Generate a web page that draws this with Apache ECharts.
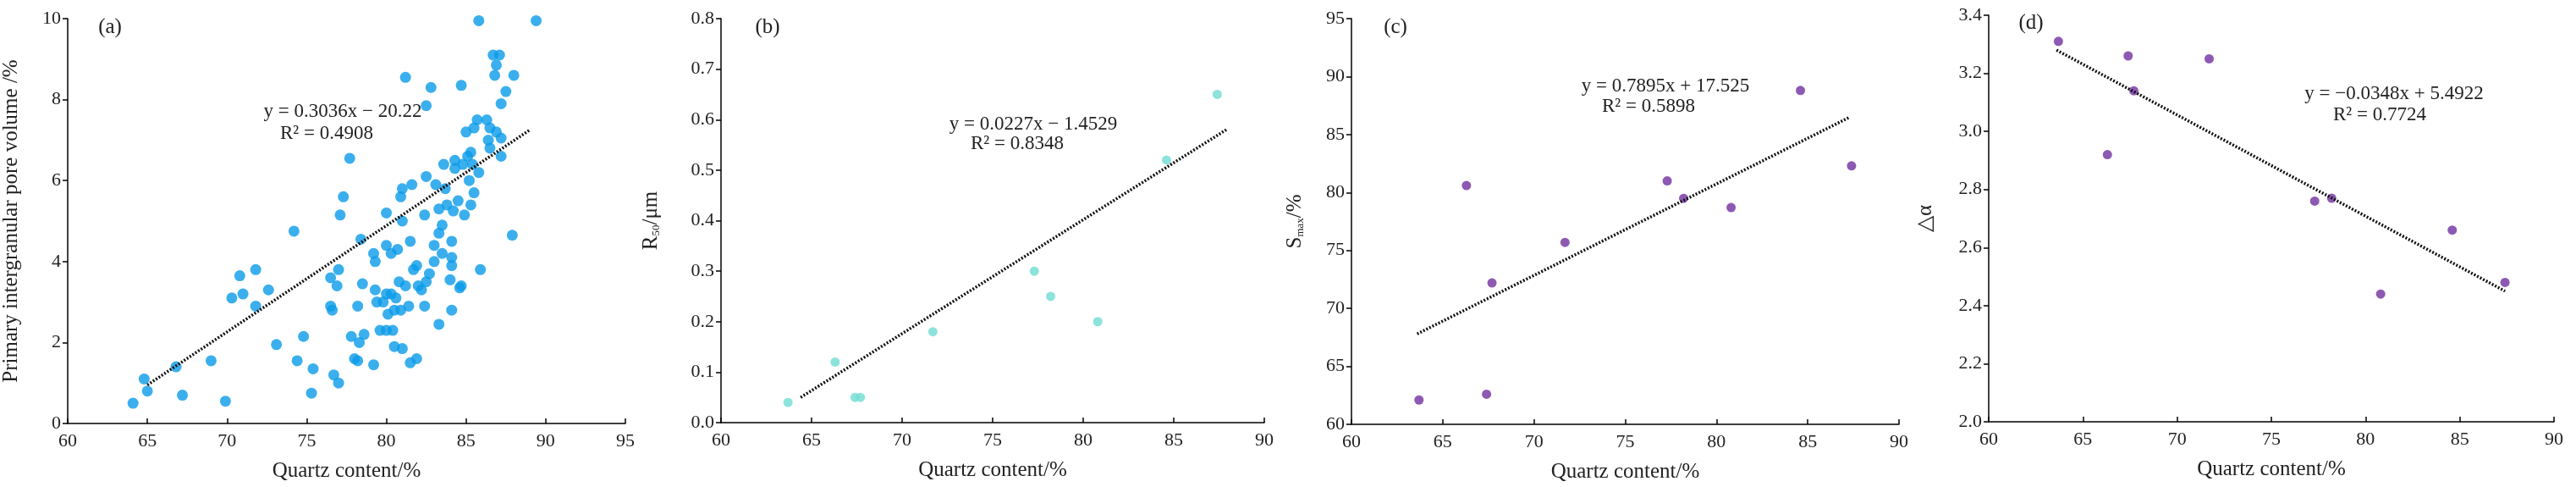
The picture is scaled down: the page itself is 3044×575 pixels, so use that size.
<!DOCTYPE html>
<html><head><meta charset="utf-8">
<script src="https://cdn.jsdelivr.net/npm/echarts@6/dist/echarts.min.js"></script>
<style>html,body{margin:0;padding:0;background:#fff}#c{width:3044px;height:575px}</style>
</head><body><div id="c"></div>
<script>
const quartzA = [64.1,64.8,65,66.8,67.2,69,69.9,70.3,70.8,71,71.8,71.8,72.6,73.1,74.2,74.4,74.8,75.3,75.4,76.5,76.5,76.6,76.7,76.9,77,77,77.1,77.3,77.7,77.8,78,78.2,78.2,78.3,78.4,78.5,78.6,79.2,79.3,79.2,79.3,79.4,79.6,79.8,80,80,80,80,80.1,80.3,80.3,80.4,80.5,80.5,80.6,80.7,80.8,80.9,80.9,81,81,81,81.2,81.2,81.4,81.5,81.5,81.6,81.7,81.9,81.9,82,82.2,82.4,82.4,82.5,82.5,82.5,82.8,82.7,83,83,83.1,83.3,83.3,83.3,83.5,83.5,83.6,83.7,83.8,84,84.1,84.1,84.1,84.1,84.2,84.3,84.3,84.5,84.6,84.7,84.7,84.8,84.9,85,85.1,85.2,85.3,85.3,85.4,85.5,85.5,85.7,85.8,85.8,85.9,86.3,86.4,86.5,86.5,86.7,86.8,86.9,86.9,87.1,87.2,87.2,87.2,87.5,87.9,88,89.4];
const poreA = [0.5,1.1,0.8,1.4,0.7,1.55,0.55,3.1,3.65,3.2,2.9,3.8,3.3,1.95,4.75,1.55,2.15,0.75,1.35,3.6,2.9,2.8,1.2,3.4,1.0,3.8,5.15,5.6,6.55,2.15,1.6,1.55,2.9,2.0,4.55,3.45,2.2,4.2,4.0,1.45,3.3,3.0,2.3,3.0,3.2,2.3,4.4,5.2,2.7,3.2,4.2,2.3,2.8,1.9,3.1,4.3,3.5,5.6,2.8,1.85,5.0,5.8,8.55,3.4,2.9,4.5,1.5,5.9,3.8,1.6,3.9,3.4,3.3,2.9,5.15,3.5,7.85,6.1,8.3,3.7,4.4,4.0,5.9,2.45,4.7,5.3,4.9,4.2,6.4,5.8,5.4,3.55,2.8,4.1,4.5,3.9,5.25,6.5,6.3,5.5,3.35,3.4,8.35,6.4,5.15,7.2,6.6,6.0,6.7,5.4,6.4,5.7,7.3,7.5,6.2,9.95,3.8,7.5,7.0,6.8,7.3,9.1,8.6,7.2,8.85,9.1,7.05,6.6,7.9,8.2,4.65,8.6,9.95];
const quartzS = [63.7,66.3,67.4,67.7,71.7,77.3,78.2,80.8,84.6,87.4];
const r50 = [0.04,0.12,0.05,0.05,0.18,0.30,0.25,0.20,0.52,0.65];
const smax = [62.1,80.6,62.6,72.2,75.7,81.0,79.5,78.7,88.8,82.3];
const dAlpha = [3.31,2.92,3.26,3.14,3.25,2.76,2.77,2.44,2.66,2.48];
const trendA = [[65,0.95],[89,7.25]];
const trendB = [[64.4,0.05],[87.9,0.58]];
const trendC = [[63.6,67.8],[87.3,86.5]];
const trendD = [[63.6,3.28],[87.4,2.45]];
const trends = [trendA,trendB,trendC,trendD];
const F = 'Liberation Serif, Times New Roman, serif';
const grids = [
  {left:80,width:659,top:22,bottom:75},
  {left:852,width:642,top:22,bottom:76},
  {left:1597,width:647,top:22,bottom:73},
  {left:2350,width:668,top:18,bottom:77}
];
const xr = [[60,95],[60,90],[60,90],[60,90]];
const yr = [[0,10,2],[0,0.8,0.1],[60,95,5],[2.0,3.4,0.2]];
const yFmt = [v=>v, v=>v.toFixed(1), v=>v, v=>v.toFixed(1)];
const lineStyle = {color:'#000',width:1.5};
const xAxis = grids.map((g,i)=>({type:'value',gridIndex:i,min:xr[i][0],max:xr[i][1],interval:5,
  axisLine:{lineStyle},axisTick:{inside:true,length:6,lineStyle},splitLine:{show:false},
  axisLabel:{color:'#222',fontFamily:F,fontSize:22,margin:10},
  name:'Quartz content/%',nameLocation:'middle',nameGap:44,nameTextStyle:{color:'#222',fontFamily:F,fontSize:25}}));
const yNames = ['Primary intergranular pore volume /%','{r|R}{s|50}{r|/μm}','{r|S}{s|max}{r|/%}','{r|△α}'];
const yAxis = grids.map((g,i)=>({type:'value',gridIndex:i,min:yr[i][0],max:yr[i][1],interval:yr[i][2],
  axisLine:{show:true,lineStyle},axisTick:{show:true,length:6,lineStyle},splitLine:{show:false},
  axisLabel:{color:'#222',fontFamily:F,fontSize:22,formatter:yFmt[i]},
  name:yNames[i],nameLocation:'middle',nameGap:[54,70,54,62][i],nameRotate:90,
  nameTextStyle:{color:'#222',fontFamily:F,fontSize:25,rich:{r:{fontFamily:F,fontSize:25,color:'#222'},s:{fontFamily:F,fontSize:13,color:'#222',verticalAlign:'bottom',padding:[10,0,0,0]}}}}));
const pts = [quartzA.map((x,i)=>[x,poreA[i]]), quartzS.map((x,i)=>[x,r50[i]]), quartzS.map((x,i)=>[x,smax[i]]), quartzS.map((x,i)=>[x,dAlpha[i]])];
const colors = ['#0a9be8','#6fdcd2','#7030a0','#7030a0'];
const series = [];
pts.forEach((p,i)=>{
  series.push({type:'scatter',xAxisIndex:i,yAxisIndex:i,data:p,symbolSize:i===0?13:11,itemStyle:{color:colors[i]},z:2});
  series.push({type:'line',xAxisIndex:i,yAxisIndex:i,data:trends[i],symbol:'none',
    lineStyle:{color:'#111',width:3.5,type:[2,2]},z:3});
});
const eq = [['y = 0.3036x − 20.22','R² = 0.4908',405,120,386,146],
            ['y = 0.0227x − 1.4529','R² = 0.8348',1221,135,1202,158],
            ['y = 0.7895x + 17.525','R² = 0.5898',1968,90,1948,114],
            ['y = −0.0348x + 5.4922','R² = 0.7724',2829,99,2812,124]];
const graphic=[];
eq.forEach(e=>{graphic.push({type:'text',x:e[2],y:e[3],style:{text:e[0],font:'23px '+F,fill:'#222',align:'center'}});
  graphic.push({type:'text',x:e[4],y:e[5],style:{text:e[1],font:'23px '+F,fill:'#222',align:'center'}});});
[['(a)',130,20],['(b)',907,20],['(c)',1649,20],['(d)',2400,15]].forEach(l=>graphic.push({type:'text',x:l[1],y:l[2],style:{text:l[0],font:'25px '+F,fill:'#222',align:'center'}}));
const chart = echarts.init(document.getElementById('c'));
chart.setOption({animation:false,backgroundColor:'#fff',grid:grids,xAxis,yAxis,series,graphic});
</script></body></html>
